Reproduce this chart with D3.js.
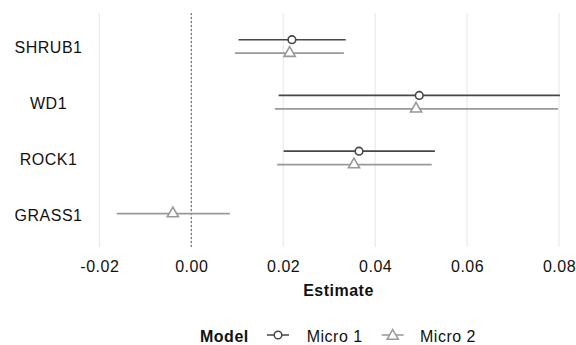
<!DOCTYPE html>
<html>
<head>
<meta charset="utf-8">
<script src="https://cdn.jsdelivr.net/npm/d3@7"></script>
<style>
  body { margin: 0; background: #fff; }
  svg { display: block; font-family: "Liberation Sans", Arial, sans-serif; }
</style>
</head>
<body>
<svg class="chart" width="576" height="345"></svg>
<script>
const terms = ["SHRUB1", "WD1", "ROCK1", "GRASS1"];
const models = ["Micro 1", "Micro 2"];

// estimates and interval ends, one entry per term (null = not in model)
const micro1Est = [0.0219, 0.0496, 0.0365, null];
const micro1Low = [0.0103, 0.019, 0.0201, null];
const micro1High = [0.0336, 0.0802, 0.053, null];

const micro2Est = [0.0214, 0.0489, 0.0354, -0.004];
const micro2Low = [0.0095, 0.0182, 0.0187, -0.0162];
const micro2High = [0.0332, 0.0798, 0.0523, 0.0084];

const xTicks = [-0.02, 0, 0.02, 0.04, 0.06, 0.08];

const colors = { "Micro 1": "#474747", "Micro 2": "#999999" };

const rows = [];
terms.forEach((t, i) => {
  if (micro1Est[i] !== null)
    rows.push({ term: t, model: "Micro 1", est: micro1Est[i], lo: micro1Low[i], hi: micro1High[i] });
  if (micro2Est[i] !== null)
    rows.push({ term: t, model: "Micro 2", est: micro2Est[i], lo: micro2Low[i], hi: micro2High[i] });
});

const panel = { top: 13, bottom: 247 };

const svg = d3.select(".chart");

const x = d3.scaleLinear().domain([-0.02, 0.08]).range([99.3, 559]);
const y = d3.scalePoint().domain(terms).range([panel.top, panel.bottom]).padding(0.6);

// dodge within a term
const dodge = y.step() * 0.12;
const yPos = (d) => {
  const n = rows.filter((r) => r.term === d.term).length;
  if (n === 1) return y(d.term);
  return y(d.term) + (d.model === "Micro 1" ? -dodge : dodge);
};

// vertical grid
svg
  .append("g")
  .selectAll("line")
  .data(xTicks)
  .join("line")
  .attr("x1", (d) => x(d))
  .attr("x2", (d) => x(d))
  .attr("y1", panel.top)
  .attr("y2", panel.bottom)
  .attr("stroke", "#e8e8e8")
  .attr("stroke-width", 1.1);

// zero reference line
svg
  .append("line")
  .attr("x1", x(0))
  .attr("x2", x(0))
  .attr("y1", panel.top)
  .attr("y2", panel.bottom)
  .attr("stroke", "#333")
  .attr("stroke-width", 0.8)
  .attr("stroke-dasharray", "2,2");

// intervals
svg
  .append("g")
  .selectAll("line")
  .data(rows)
  .join("line")
  .attr("x1", (d) => x(d.lo))
  .attr("x2", (d) => x(d.hi))
  .attr("y1", yPos)
  .attr("y2", yPos)
  .attr("stroke", (d) => colors[d.model])
  .attr("stroke-width", 1.7);

// points
const tri = d3.symbol().type(d3.symbolTriangle).size(54);
const circ = d3.symbol().type(d3.symbolCircle).size(46);
svg
  .append("g")
  .selectAll("path")
  .data(rows)
  .join("path")
  .attr("d", (d) => (d.model === "Micro 1" ? circ() : tri()))
  .attr("transform", (d) => `translate(${x(d.est)},${yPos(d)})`)
  .attr("fill", "#fff")
  .attr("stroke", (d) => colors[d.model])
  .attr("stroke-width", 1.6);

// y labels
svg
  .append("g")
  .selectAll("text")
  .data(terms)
  .join("text")
  .attr("x", 48.5)
  .attr("y", (d) => y(d) + 7)
  .attr("text-anchor", "middle")
  .attr("font-size", 16)
  .attr("letter-spacing", 0.5)
  .attr("fill", "#111")
  .text((d) => d);

// x axis
const xAxis = svg
  .append("g")
  .attr("transform", `translate(0,${panel.bottom})`)
  .call(d3.axisBottom(x).tickValues(xTicks).tickSize(0).tickPadding(0).tickFormat((d) => d.toFixed(2)));
xAxis.select(".domain").remove();
xAxis
  .selectAll("text")
  .attr("dy", null)
  .attr("y", 24.5)
  .attr("font-size", 16)
  .attr("letter-spacing", 0.5)
  .attr("fill", "#111")
  .attr("font-family", null);

svg
  .append("text")
  .attr("x", 338.5)
  .attr("y", 296)
  .attr("text-anchor", "middle")
  .attr("font-size", 16)
  .attr("font-weight", "bold")
  .attr("letter-spacing", 0.5)
  .attr("fill", "#111")
  .text("Estimate");

// legend
const legend = svg.append("g").attr("transform", "translate(0,335)");
legend
  .append("text")
  .attr("x", 200)
  .attr("y", 7)
  .attr("font-size", 16)
  .attr("font-weight", "bold")
  .attr("letter-spacing", 0.5)
  .attr("fill", "#111")
  .text("Model");

const keyX = [267, 381.7];
models.forEach((m, i) => {
  const g = legend.append("g").attr("transform", `translate(${keyX[i]},0)`);
  g.append("line")
    .attr("x1", 0)
    .attr("x2", 22)
    .attr("stroke", colors[m])
    .attr("stroke-width", 1.5);
  g.append("path")
    .attr("d", i === 0 ? circ() : tri())
    .attr("transform", `translate(11,${i === 0 ? 0 : 1})`)
    .attr("fill", "#fff")
    .attr("stroke", colors[m])
    .attr("stroke-width", 1.5);
  g.append("text")
    .attr("x", i === 0 ? 39.7 : 38.3)
    .attr("y", 7)
    .attr("font-size", 16)
    .attr("letter-spacing", 0.5)
    .attr("fill", "#111")
    .text(m);
});
</script>
</body>
</html>
